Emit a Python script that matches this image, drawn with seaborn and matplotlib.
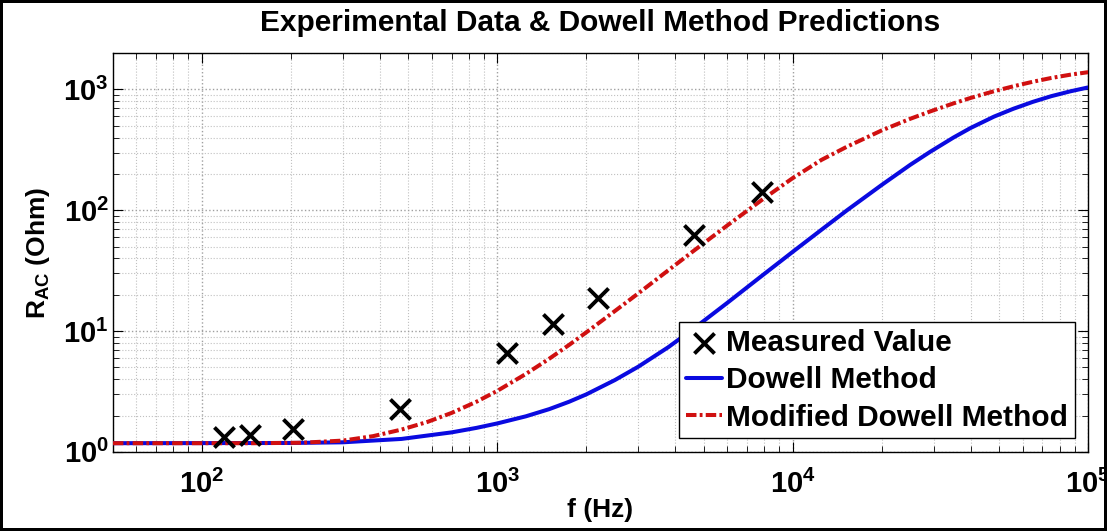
import matplotlib
matplotlib.use('Agg')
import matplotlib.pyplot as plt
import seaborn as sns

# 测量点 (Hz, Ohm)
f_meas = [119, 145, 203, 467, 1081, 1545, 2190, 4630, 7850]
r_meas = [1.33, 1.38, 1.55, 2.27, 6.6, 11.5, 18.9, 62.8, 142]

# Dowell 曲线
f_dowell = [50, 200, 300, 474, 700, 850, 1000, 1250, 1500, 1750, 2000, 2500,
            3000, 3790, 4650, 6000, 7850, 10000, 12500, 15300, 20000, 25000,
            29200, 35000, 40000, 48000, 55800, 65000, 75000, 87000, 100000]
r_dowell = [1.18, 1.185, 1.2, 1.28, 1.45, 1.58, 1.72, 1.97, 2.26, 2.6, 2.99, 3.93,
            5.07, 7.35, 10.6, 17.1, 28.6, 45.3, 68.9, 100.4, 162, 238,
            305, 400, 480, 596, 692, 790, 880, 965, 1040]

# Modified Dowell 曲线
f_mod = [50, 150, 218, 300, 380, 474, 580, 700, 850, 1000, 1250, 1500, 1750,
         2000, 2500, 3000, 3800, 4650, 6000, 7850, 10000, 12500, 15300, 20000,
         25000, 29200, 35000, 40000, 48000, 55800, 65000, 75000, 87000, 100000]
r_mod = [1.18, 1.18, 1.19, 1.24, 1.35, 1.53, 1.77, 2.1, 2.6, 3.2, 4.42, 5.91, 7.68,
         9.75, 14.65, 20.5, 32.0, 46.7, 74.8, 121.5, 184.7, 261, 337, 458,
         572, 658, 767, 851, 967, 1062, 1159, 1245, 1325, 1390]

sns.set_style('whitegrid')
plt.rcParams['font.family'] = ['Liberation Sans', 'DejaVu Sans']
plt.rcParams['font.weight'] = 'bold'
plt.rcParams['axes.titleweight'] = 'bold'
plt.rcParams['axes.labelweight'] = 'bold'
plt.rcParams['text.color'] = 'black'
plt.rcParams['axes.labelcolor'] = 'black'
plt.rcParams['xtick.color'] = 'black'
plt.rcParams['ytick.color'] = 'black'
plt.rcParams['mathtext.fontset'] = 'custom'
plt.rcParams['mathtext.rm'] = 'Liberation Sans:bold'
plt.rcParams['mathtext.it'] = 'Liberation Sans:bold'
plt.rcParams['mathtext.bf'] = 'Liberation Sans:bold'
plt.rcParams['mathtext.default'] = 'rm'

fig, ax = plt.subplots(figsize=(11.07, 5.31), dpi=100)
fig.subplots_adjust(left=0.102, right=0.983, top=0.900, bottom=0.149)
fig.patch.set_edgecolor('black')
fig.patch.set_linewidth(4)

sns.lineplot(x=f_dowell, y=r_dowell, ax=ax, color='#0a0ae0', lw=2.9,
             estimator=None, sort=False, label='Dowell Method', zorder=3)
sns.lineplot(x=f_mod, y=r_mod, ax=ax, color='#d01010', lw=2.9,
             linestyle=(0, (2.6, 0.8, 0.7, 0.8)),
             estimator=None, sort=False, label='Modified Dowell Method', zorder=3)
sns.scatterplot(x=f_meas, y=r_meas, ax=ax, marker='x', s=210, color='black',
                linewidth=2.8, label='Measured Value', zorder=4)

ax.set_xscale('log')
ax.set_yscale('log')
ax.set_xlim(50, 1e5)
ax.set_ylim(1, 2000)

ax.grid(True, which='major', color='#a0a0a0', linestyle=':', linewidth=1.0)
ax.grid(True, which='minor', color='#c0c0c0', linestyle=':', linewidth=0.8)
for sp in ax.spines.values():
    sp.set_color('black')
    sp.set_linewidth(1.0)
ax.tick_params(which='both', direction='in', top=True, right=True,
               bottom=True, left=True, color='black')
ax.tick_params(which='major', length=7, width=0.8, labelsize=21)
ax.tick_params(axis='x', which='major', pad=13)
ax.tick_params(axis='y', which='major', pad=3)
ax.tick_params(which='minor', length=4, width=0.6)

ax.set_title('Experimental Data & Dowell Method Predictions', fontsize=21.5, pad=16)
ax.set_xlabel('f (Hz)', fontsize=19, labelpad=-1)
ax.set_ylabel(r'R$_{\mathrm{AC}}$ (Ohm)', fontsize=19, labelpad=8)

handles, labels = ax.get_legend_handles_labels()
order = [labels.index('Measured Value'), labels.index('Dowell Method'),
         labels.index('Modified Dowell Method')]
leg = ax.legend([handles[i] for i in order], [labels[i] for i in order],
                loc='lower right', fontsize=21.5, frameon=True, fancybox=False,
                edgecolor='black', framealpha=1, handlelength=1.2,
                handletextpad=0.15, labelspacing=0.32, borderpad=0.22,
                borderaxespad=0.45)
leg.get_frame().set_linewidth(1.0)

fig.savefig('out.png', dpi=100)
